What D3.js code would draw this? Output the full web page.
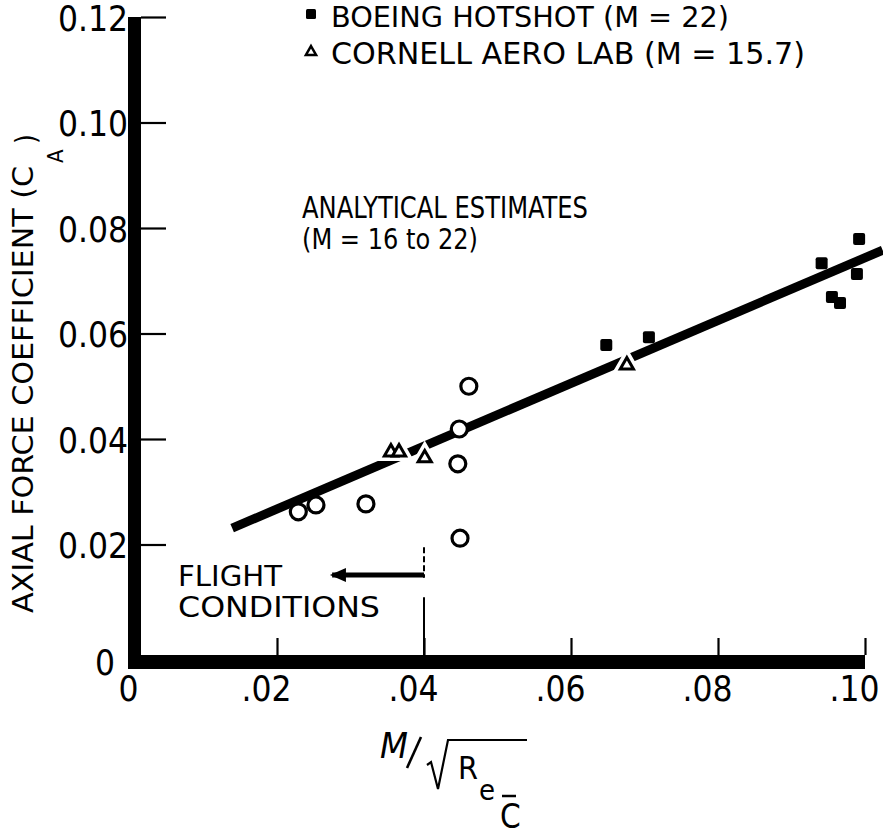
<!DOCTYPE html>
<html><head><meta charset="utf-8">
<script src="https://cdn.jsdelivr.net/npm/d3@7/dist/d3.min.js"></script>
<style>
html,body{margin:0;padding:0;background:#fff;}
svg{display:block;}
text{font-family:'DejaVu Sans Condensed','Liberation Sans Narrow',sans-serif;fill:#000;}
</style></head>
<body>
<svg id="chart" width="883" height="835"></svg>
<script>
// ---- data ----
const circleX = [0.0229, 0.0253, 0.0321, 0.0448, 0.0461, 0.0446, 0.0449];
const circleY = [0.0262, 0.0275, 0.0277, 0.0419, 0.0500, 0.0353, 0.0212];
const triangleX = [0.0355, 0.0366, 0.0401, 0.0676];
const triangleY = [0.0375, 0.0375, 0.0364, 0.0540];
const squareX = [0.0648, 0.0706, 0.0941, 0.0992, 0.0989, 0.0955, 0.0966];
const squareY = [0.0578, 0.0593, 0.0733, 0.0779, 0.0713, 0.0669, 0.0658];
const fitX = [0.0139, 0.1024];
const fitY = [0.0231, 0.0758];
const xTicks = [0, 0.02, 0.04, 0.06, 0.08, 0.10];
const xTickLabels = ["0", ".02", ".04", ".06", ".08", ".10"];
const yTicks = [0, 0.02, 0.04, 0.06, 0.08, 0.10, 0.12];
const yTickLabels = ["0", "0.02", "0.04", "0.06", "0.08", "0.10", "0.12"];
const legendLabels = ["BOEING HOTSHOT (M = 22)", "CORNELL AERO LAB (M = 15.7)"];
const flightX = 0.04;

const svg = d3.select("#chart");
const x = d3.scaleLinear().domain([0, 0.10]).range([130, 865]);
const y = d3.scaleLinear().domain([0, 0.12]).range([650, 17]);

// ---- axis bars ----
svg.append("rect").attr("x", x(0) - 2).attr("y", y(0.12)).attr("width", 13)
  .attr("height", y(0) + 19 - y(0.12)).attr("fill", "#000");
svg.append("rect").attr("x", x(0) - 2).attr("y", y(0) + 5).attr("width", x(0.10) - x(0) + 2)
  .attr("height", 14).attr("fill", "#000");

// ---- y axis ----
const yAxis = d3.axisLeft(y).tickValues(yTicks)
  .tickFormat((d, i) => yTickLabels[i]).tickSize(-25).tickPadding(13);
const gy = svg.append("g").attr("transform", `translate(${x(0) + 11},0)`).call(yAxis);
gy.select(".domain").remove();
gy.selectAll(".tick line").attr("stroke", "#000").attr("stroke-width", 2.2);
gy.selectAll(".tick text").attr("font-size", 35).attr("font-family", null).attr("dy", "0.38em");
gy.selectAll(".tick").filter(d => d === 0).select("line").remove();
gy.selectAll(".tick").filter(d => d === 0).select("text").attr("x", -26).attr("dy", "0.7em");

// ---- x axis ----
const xAxis = d3.axisBottom(x).tickValues(xTicks)
  .tickFormat((d, i) => xTickLabels[i]).tickSize(-17).tickPadding(21);
const gx = svg.append("g").attr("transform", `translate(0,${y(0) + 5})`).call(xAxis);
gx.select(".domain").remove();
gx.selectAll(".tick line").attr("stroke", "#000").attr("stroke-width", 2.2);
gx.selectAll(".tick text").attr("font-size", 35).attr("font-family", null)
  .attr("text-anchor", "end").attr("x", 14);
gx.selectAll(".tick").filter(d => d === 0).select("line").remove();
gx.selectAll(".tick").filter(d => d === 0).select("text").attr("text-anchor", "middle").attr("x", -2);

// ---- flight conditions marker ----
svg.append("line").attr("x1", x(flightX)).attr("x2", x(flightX))
  .attr("y1", y(0.0195)).attr("y2", y(0.0137)).attr("stroke", "#000")
  .attr("stroke-width", 2).attr("stroke-dasharray", "6,3");
svg.append("line").attr("x1", x(flightX)).attr("x2", x(flightX))
  .attr("y1", y(0.0100)).attr("y2", y(0) + 5).attr("stroke", "#000").attr("stroke-width", 2);
svg.append("line").attr("x1", x(flightX)).attr("x2", x(0.0275))
  .attr("y1", y(0.0142)).attr("y2", y(0.0142)).attr("stroke", "#000").attr("stroke-width", 5);
svg.append("path")
  .attr("d", `M${x(0.0272)},${y(0.0142)} l16,-7 l0,14 z`).attr("fill", "#000");
svg.append("text").attr("x", 178).attr("y", 586).attr("font-size", 28)
  .attr("textLength", 104).attr("lengthAdjust", "spacingAndGlyphs").text("FLIGHT");
svg.append("text").attr("x", 178).attr("y", 617).attr("font-size", 28)
  .attr("textLength", 202).attr("lengthAdjust", "spacingAndGlyphs").text("CONDITIONS");

// ---- fit line ----
const line = d3.line().x(d => x(d[0])).y(d => y(d[1]));
svg.append("path").datum(fitX.map((v, i) => [v, fitY[i]])).attr("d", line)
  .attr("stroke", "#000").attr("stroke-width", 9).attr("fill", "none");

svg.append("text").attr("x", 302).attr("y", 218).attr("font-size", 31)
  .attr("textLength", 286).attr("lengthAdjust", "spacingAndGlyphs").text("ANALYTICAL ESTIMATES");
svg.append("text").attr("x", 302).attr("y", 249).attr("font-size", 29)
  .attr("textLength", 176).attr("lengthAdjust", "spacingAndGlyphs").text("(M = 16 to 22)");

// ---- markers ----
const tri = d3.symbol().type(d3.symbolTriangle).size(75);
const triData = triangleX.map((v, i) => [v, triangleY[i]]);
svg.append("g").selectAll("path.halo").data(triData).join("path")
  .attr("d", tri).attr("transform", d => `translate(${x(d[0])},${y(d[1])})`)
  .attr("fill", "#fff").attr("stroke", "#fff").attr("stroke-width", 10);
svg.append("g").selectAll("path").data(triData).join("path")
  .attr("d", tri).attr("transform", d => `translate(${x(d[0])},${y(d[1])})`)
  .attr("fill", "#fff").attr("stroke", "#000").attr("stroke-width", 3);

svg.append("g").selectAll("circle").data(circleX.map((v, i) => [v, circleY[i]])).join("circle")
  .attr("cx", d => x(d[0])).attr("cy", d => y(d[1])).attr("r", 8)
  .attr("fill", "#fff").attr("stroke", "#000").attr("stroke-width", 3.2);

svg.append("g").selectAll("rect").data(squareX.map((v, i) => [v, squareY[i]])).join("rect")
  .attr("x", d => x(d[0]) - 6).attr("y", d => y(d[1]) - 6).attr("width", 12).attr("height", 12)
  .attr("rx", 2).attr("fill", "#000");

// ---- legend ----
svg.append("rect").attr("x", 306).attr("y", 9).attr("width", 10).attr("height", 10).attr("rx", 1.5).attr("fill", "#000");
svg.append("path").attr("d", d3.symbol().type(d3.symbolTriangle).size(45)())
  .attr("transform", "translate(311,52)").attr("fill", "#fff").attr("stroke", "#000").attr("stroke-width", 2.5);
svg.append("text").attr("x", 331).attr("y", 27).attr("font-size", 29)
  .attr("textLength", 398).attr("lengthAdjust", "spacingAndGlyphs").text(legendLabels[0]);
svg.append("text").attr("x", 331).attr("y", 64).attr("font-size", 31)
  .attr("textLength", 474).attr("lengthAdjust", "spacingAndGlyphs").text(legendLabels[1]);

// ---- axis titles ----
svg.append("text").attr("transform", "translate(33,613) rotate(-90)")
  .attr("font-size", 28).attr("textLength", 447).attr("lengthAdjust", "spacingAndGlyphs")
  .text("AXIAL FORCE COEFFICIENT (C");
svg.append("text").attr("transform", "translate(63,163) rotate(-90)")
  .attr("font-size", 22).text("A");
svg.append("text").attr("transform", "translate(36,144) rotate(-90)")
  .attr("font-size", 28).text(")");

svg.append("text").attr("x", 380).attr("y", 758).attr("font-size", 36).attr("font-style", "italic").text("M");
svg.append("line").attr("x1", 407).attr("y1", 768).attr("x2", 421).attr("y2", 737)
  .attr("stroke", "#000").attr("stroke-width", 2.6);
svg.append("path").attr("d", "M427,765 L431,762 L438,789 L448,740 L527,740")
  .attr("fill", "none").attr("stroke", "#000").attr("stroke-width", 2.2);
svg.append("text").attr("x", 458).attr("y", 779).attr("font-size", 32).text("R");
svg.append("text").attr("x", 479).attr("y", 800).attr("font-size", 29).text("e");
svg.append("text").attr("x", 500).attr("y", 828).attr("font-size", 33).text("C");
svg.append("line").attr("x1", 502).attr("x2", 516).attr("y1", 796).attr("y2", 796)
  .attr("stroke", "#000").attr("stroke-width", 2.5);
</script>
</body></html>
